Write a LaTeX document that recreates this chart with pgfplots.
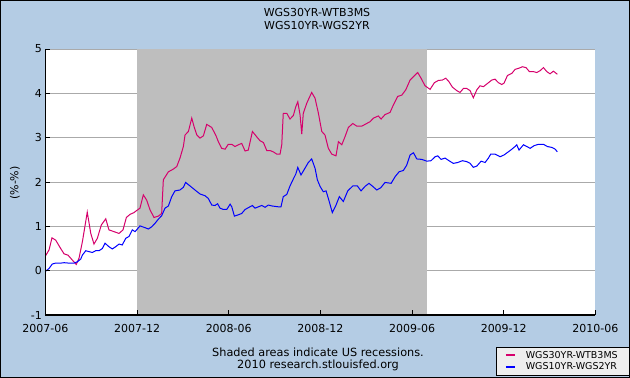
\documentclass[border=0pt]{standalone}
\usepackage{fontspec}
\setmainfont{DejaVu Sans}
\usepackage{pgfplots}
\usepackage{pgfplotstable}
\pgfplotsset{compat=1.18}
\definecolor{bgblue}{RGB}{180,204,228}
\definecolor{recgray}{RGB}{190,190,190}
\definecolor{gridgray}{RGB}{170,170,170}
\definecolor{redline}{RGB}{214,0,108}
\definecolor{blueline}{RGB}{0,0,255}
\definecolor{legbg}{RGB}{238,238,238}

% x = months since 2007-06-01
\pgfplotstableread{
m v
0.02 0.34
0.24 0.47
0.43 0.74
0.67 0.69
1.00 0.50
1.22 0.38
1.48 0.35
1.76 0.24
2.02 0.14
2.20 0.28
2.42 0.65
2.64 1.11
2.74 1.32
2.97 0.84
3.18 0.60
3.40 0.73
3.66 1.03
3.95 1.17
4.16 0.92
4.49 0.88
4.82 0.84
5.08 0.92
5.30 1.20
5.54 1.27
5.80 1.31
5.87 1.33
6.19 1.41
6.41 1.71
6.63 1.59
6.85 1.37
7.11 1.20
7.39 1.23
7.61 1.29
7.72 2.05
8.05 2.23
8.37 2.29
8.60 2.35
8.81 2.54
9.03 2.80
9.14 3.06
9.36 3.14
9.58 3.44
9.73 3.25
9.91 3.06
10.12 2.99
10.34 3.04
10.56 3.30
10.89 3.23
11.17 3.04
11.32 2.91
11.54 2.76
11.76 2.74
11.97 2.85
12.20 2.85
12.41 2.80
12.63 2.84
12.85 2.87
13.07 2.70
13.28 2.72
13.55 3.14
13.83 3.02
14.05 2.93
14.27 2.89
14.49 2.71
14.70 2.71
14.92 2.68
15.14 2.63
15.36 2.63
15.47 2.84
15.57 3.55
15.80 3.55
16.01 3.42
16.23 3.50
16.39 3.70
16.52 3.81
16.67 3.51
16.78 3.08
16.88 3.55
17.11 3.78
17.43 4.02
17.65 3.89
17.87 3.55
18.09 3.14
18.30 3.06
18.52 2.76
18.74 2.63
19.02 2.59
19.18 2.91
19.40 2.84
19.61 3.02
19.83 3.23
20.12 3.32
20.38 3.26
20.71 3.26
21.03 3.32
21.25 3.36
21.47 3.44
21.79 3.49
21.97 3.42
22.23 3.52
22.56 3.57
22.78 3.74
23.06 3.93
23.33 3.96
23.59 4.08
23.87 4.30
24.13 4.39
24.37 4.47
24.59 4.34
24.85 4.17
25.18 4.09
25.46 4.24
25.72 4.29
25.98 4.30
26.21 4.34
26.42 4.26
26.64 4.14
26.93 4.06
27.14 4.02
27.36 4.11
27.58 4.11
27.80 4.06
28.01 3.90
28.24 4.08
28.45 4.17
28.67 4.15
29.00 4.24
29.22 4.30
29.43 4.32
29.65 4.24
29.87 4.20
30.02 4.23
30.24 4.40
30.53 4.45
30.74 4.54
31.02 4.57
31.22 4.60
31.46 4.58
31.68 4.49
31.94 4.49
32.16 4.47
32.38 4.51
32.60 4.58
32.82 4.49
33.03 4.44
33.25 4.50
33.51 4.43
}\redtab

\pgfplotstableread{
m v
0.02 -0.01
0.24 0.05
0.45 0.15
0.67 0.17
1.00 0.17
1.22 0.18
1.55 0.17
1.87 0.17
2.09 0.20
2.31 0.26
2.42 0.35
2.64 0.45
2.85 0.43
3.07 0.41
3.29 0.45
3.51 0.45
3.73 0.50
3.90 0.62
4.16 0.54
4.38 0.49
4.60 0.54
4.82 0.60
5.03 0.58
5.26 0.73
5.47 0.77
5.69 0.92
5.87 0.88
6.19 1.01
6.52 0.97
6.74 0.94
6.96 0.99
7.18 1.07
7.39 1.16
7.61 1.24
7.83 1.41
8.05 1.46
8.27 1.67
8.48 1.80
8.81 1.82
9.03 1.88
9.18 1.99
9.47 1.91
9.79 1.82
10.12 1.73
10.45 1.69
10.66 1.63
10.89 1.48
11.10 1.47
11.27 1.51
11.43 1.41
11.65 1.38
11.87 1.38
12.09 1.50
12.20 1.44
12.37 1.23
12.63 1.26
12.85 1.29
13.07 1.38
13.28 1.42
13.55 1.47
13.72 1.41
13.94 1.44
14.16 1.47
14.38 1.43
14.59 1.48
14.82 1.46
15.25 1.44
15.42 1.44
15.57 1.67
15.80 1.72
16.01 1.91
16.23 2.07
16.39 2.18
16.52 2.33
16.73 2.16
16.99 2.31
17.21 2.44
17.43 2.52
17.65 2.31
17.80 2.05
17.98 1.90
18.19 1.78
18.37 1.80
18.52 1.63
18.78 1.31
19.00 1.46
19.24 1.67
19.50 1.56
19.79 1.80
20.12 1.91
20.42 1.91
20.66 1.80
20.92 1.90
21.18 1.97
21.43 1.90
21.69 1.82
21.95 1.87
22.23 1.99
22.63 1.97
22.89 2.12
23.15 2.23
23.43 2.26
23.65 2.38
23.87 2.61
24.09 2.66
24.31 2.52
24.64 2.51
24.96 2.47
25.24 2.48
25.51 2.57
25.68 2.59
25.90 2.51
26.16 2.54
26.42 2.48
26.70 2.42
26.99 2.44
27.29 2.48
27.58 2.46
27.80 2.42
28.01 2.33
28.24 2.36
28.52 2.47
28.78 2.44
29.00 2.54
29.15 2.63
29.43 2.63
29.76 2.57
30.02 2.61
30.30 2.68
30.53 2.74
30.74 2.80
30.85 2.84
31.00 2.72
31.29 2.84
31.51 2.80
31.73 2.76
31.99 2.82
32.27 2.85
32.60 2.85
32.86 2.80
33.15 2.78
33.37 2.74
33.51 2.68
}\bluetab

\begin{document}
\begin{tikzpicture}[x=1pt,y=1pt]
\fill[bgblue] (0,0) rectangle (630,378);
\draw[black, line width=1pt] (0.5,0.5) rectangle (629.5,377.5);
\node[font=\fontsize{11}{12}\selectfont] at (317,366) {WGS30YR-WTB3MS};
\node[font=\fontsize{11}{12}\selectfont] at (317,353) {WGS10YR-WGS2YR};
\node[font=\fontsize{11}{12}\selectfont, rotate=90] at (15,195) {(\%-\%)};
\node[font=\fontsize{11.3}{12}\selectfont] at (318,26) {Shaded areas indicate US recessions.};
\node[font=\fontsize{11.3}{12}\selectfont] at (318,13) {2010 research.stlouisfed.org};
\begin{axis}[
  at={(45.4pt,63pt)}, anchor=south west,
  scale only axis, width=550pt, height=266pt,
  xmin=0, xmax=36, ymin=-1, ymax=5,
  axis on top,
  axis x line*=bottom, axis y line*=left,
  axis line style={-, black, line width=1pt},
  xtick={0,6,...,36},
  xticklabels={2007-06,2007-12,2008-06,2008-12,2009-06,2009-12,2010-06},
  ytick={-1,0,...,5},
  tick align=inside, major tick length=5pt,
  tick style={black, line width=1pt},
  axis background/.style={fill=white},
  /pgf/number format/assume math mode=true,
  ticklabel style={font=\fontsize{11}{12}\selectfont},
  xticklabel style={yshift=-6pt},
  legend style={at={(1.061,-0.12)}, anchor=north east, fill=legbg, draw=black,
    font=\fontsize{9.5}{11}\selectfont, inner xsep=9pt, inner ysep=2pt, row sep=-1pt,
    legend cell align=left,
    /tikz/every odd column/.append style={column sep=8pt}},
  legend image code/.code={\draw[#1, line width=1.8pt] (0pt,0pt) -- (9pt,0pt);},
]
\addplot[gridgray, line width=0.8pt, forget plot] coordinates {(0,0) (36,0)};
\addplot[gridgray, line width=0.8pt, forget plot] coordinates {(0,1) (36,1)};
\addplot[gridgray, line width=0.8pt, forget plot] coordinates {(0,2) (36,2)};
\addplot[gridgray, line width=0.8pt, forget plot] coordinates {(0,3) (36,3)};
\addplot[gridgray, line width=0.8pt, forget plot] coordinates {(0,4) (36,4)};
\addplot[gridgray, line width=0.8pt, forget plot] coordinates {(0,5) (36,5)};
\addplot[fill=recgray, draw=none, forget plot] coordinates {(6,-1) (6,5) (25,5) (25,-1)} -- cycle;
\addplot[redline, line width=1pt] table[x=m, y=v] {\redtab};
\addlegendentry{WGS30YR-WTB3MS}
\addplot[blueline, line width=1pt] table[x=m, y=v] {\bluetab};
\addlegendentry{WGS10YR-WGS2YR}
\end{axis}
\end{tikzpicture}
\end{document}
